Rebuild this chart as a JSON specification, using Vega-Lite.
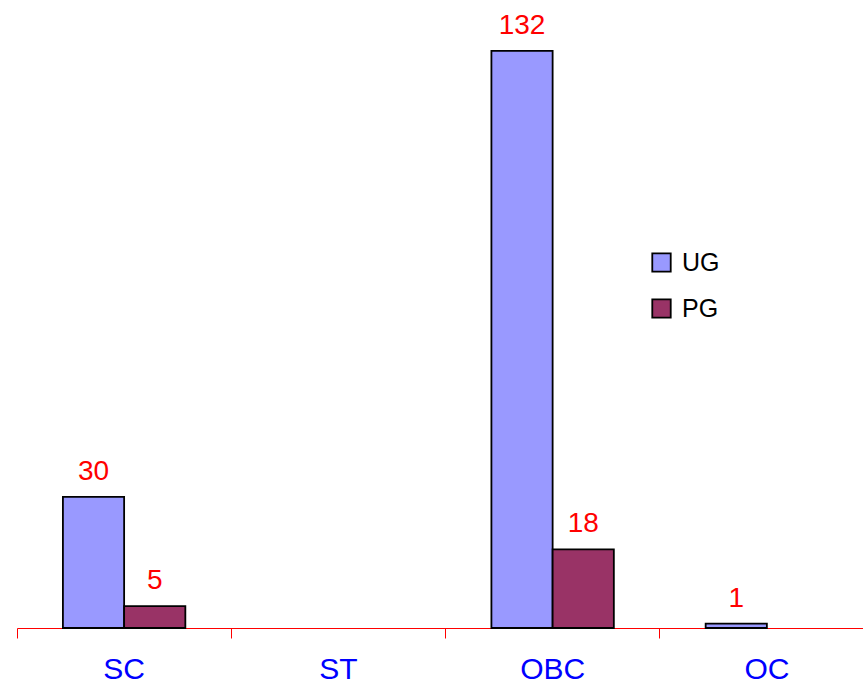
{
  "$schema": "https://vega.github.io/schema/vega-lite/v6.json",
  "autosize": "none",
  "width": 846,
  "height": 612,
  "padding": {"left": 17, "top": 16, "right": 0, "bottom": 64},
  "background": "white",
  "config": {"view": {"stroke": null}, "font": "Liberation Sans"},
  "data": {
    "values": [
      {"category": "SC", "level": "UG", "count": 30},
      {"category": "SC", "level": "PG", "count": 5},
      {"category": "OBC", "level": "UG", "count": 132},
      {"category": "OBC", "level": "PG", "count": 18},
      {"category": "OC", "level": "UG", "count": 1}
    ]
  },
  "encoding": {
    "x": {
      "field": "category",
      "type": "nominal",
      "sort": ["SC", "ST", "OBC", "OC"],
      "scale": {"domain": ["SC", "ST", "OBC", "OC"], "range": [0, 857], "paddingInner": 0, "paddingOuter": 0},
      "title": null,
      "axis": {
        "bandPosition": 0,
        "domainColor": "#FF0000",
        "domainWidth": 1.2,
        "tickColor": "#FF0000",
        "tickSize": 10,
        "tickWidth": 1,
        "labelAngle": 0,
        "labelColor": "#0000FF",
        "labelFontSize": 30,
        "labelPadding": 16,
        "labelFont": "Liberation Sans"
      }
    },
    "xOffset": {
      "field": "level",
      "type": "nominal",
      "sort": ["UG", "PG"],
      "scale": {"domain": ["UG", "PG"], "paddingInner": 0, "paddingOuter": 0.75}
    },
    "y": {
      "field": "count",
      "type": "quantitative",
      "scale": {"domain": [0, 140], "nice": false},
      "axis": null
    }
  },
  "layer": [
    {
      "mark": {"type": "bar", "stroke": "black", "strokeWidth": 1.8},
      "encoding": {
        "color": {
          "field": "level",
          "type": "nominal",
          "sort": ["UG", "PG"],
          "scale": {"domain": ["UG", "PG"], "range": ["#9999FF", "#993366"]},
          "legend": {
            "title": null,
            "orient": "none",
            "legendX": 632,
            "legendY": 234,
            "symbolType": "square",
            "symbolSize": 340,
            "symbolStrokeColor": "black",
            "symbolStrokeWidth": 1.8,
            "labelFontSize": 25,
            "labelFont": "Liberation Sans",
            "labelColor": "black",
            "labelOffset": 8,
            "rowPadding": 19
          }
        }
      }
    },
    {
      "mark": {"type": "text", "color": "#FF0000", "fontSize": 28, "baseline": "alphabetic", "dy": -17, "font": "Liberation Sans"},
      "encoding": {"text": {"field": "count", "type": "quantitative"}}
    }
  ]
}
